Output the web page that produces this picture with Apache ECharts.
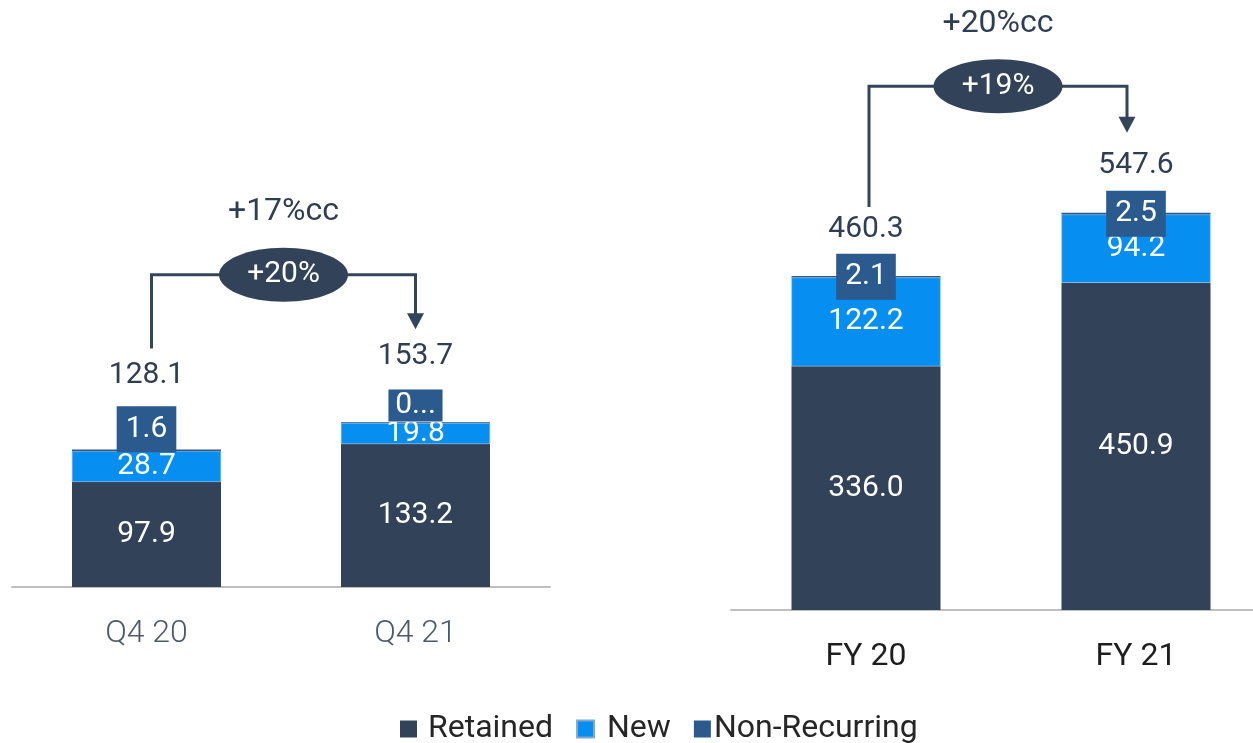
<!DOCTYPE html>
<html>
<head>
<meta charset="utf-8">
<script src="https://cdn.jsdelivr.net/npm/echarts@6/dist/echarts.min.js"></script>
<style>
  html, body { margin: 0; padding: 0; background: #ffffff; overflow: hidden; }
  /* the right-hand axis runs past the page edge, so the canvas is a little wider than the page */
  #chart { width: 1271px; height: 743px; }
</style>
</head>
<body>
<div id="chart"></div>
<script>
// Quarter panel
const categoriesQ = ['Q4 20', 'Q4 21'];
const retainedQ = [97.9, 133.2];
const newQ = [28.7, 19.8];
const nonRecurringQ = [1.6, 0.7];
const totalQ = [128.1, 153.7];
const growthQ = '+20%';
const growthQcc = '+17%cc';

// Full-year panel
const categoriesFY = ['FY 20', 'FY 21'];
const retainedFY = [336.0, 450.9];
const newFY = [122.2, 94.2];
const nonRecurringFY = [2.1, 2.5];
const totalFY = [460.3, 547.6];
const growthFY = '+19%';
const growthFYcc = '+20%cc';

// Colours and type
const C_RETAINED = '#324359';
const C_NEW = '#068ff0';
const C_NONREC = '#2a5a8e';
const C_INK = '#2f3e52';
const FONT = 'Roboto, "Noto Sans", sans-serif';
const FS = 30;      // values inside / above bars
const FS_BIG = 32;  // axis labels, legend, growth notes

// Layout tweaks (pixels) for labels and growth brackets, per bar: [Q4 20, Q4 21, FY 20, FY 21]
const nonRecLabelShift = [-21, -17, 0, 0];
const totalLabelShift = [-74, -66, -47, -47];
const stemGap = [27, 27, 22, 33];
const stemShift = [5, 0, 3, -9];
// per panel: bracket height above the higher total label
const bracketRise = [81.5, 79.5];

const fmt = v => v.toFixed(1);

const valueLabel = {
  show: true, position: 'inside', color: '#ffffff',
  fontFamily: FONT, fontSize: FS, formatter: p => fmt(p.value)
};

function nonRecData(values, base) {
  return values.map((v, i) => {
    const k = base + i;
    const label = { offset: [0, nonRecLabelShift[k]] };
    if (k === 1) {
      // narrow box: the value is cut short with an ellipsis
      label.width = 42.1;
      label.overflow = 'truncate';
      label.ellipsis = '...';
      label.padding = [6, 6, 0, 6];
      label.lineHeight = 26;
    }
    return { value: v, label };
  });
}

function barSeries(axis, stack, retained, newer, nonRec, base) {
  const common = { type: 'bar', stack, xAxisIndex: axis, yAxisIndex: axis, barWidth: 149 };
  return [
    Object.assign({}, common, {
      name: 'Retained', data: retained, itemStyle: { color: C_RETAINED }, label: valueLabel
    }),
    Object.assign({}, common, {
      name: 'New', data: newer,
      itemStyle: { color: C_NEW, borderColor: '#7fa9cf', borderWidth: 0.6 },
      label: valueLabel
    }),
    Object.assign({}, common, {
      name: 'Non-Recurring', data: nonRecData(nonRec, base),
      itemStyle: { color: C_NONREC },
      label: Object.assign({}, valueLabel, {
        backgroundColor: C_NONREC, padding: [9, 9], lineHeight: 28
      })
    })
  ];
}

function totalSeries(axis, totals, base) {
  return {
    type: 'scatter', xAxisIndex: axis, yAxisIndex: axis,
    symbolSize: 1, itemStyle: { color: 'rgba(255,255,255,0)' }, silent: true,
    data: totals.map((v, i) => ({ value: v, label: { offset: [0, totalLabelShift[base + i]] } })),
    label: {
      show: true, position: 'inside', color: C_INK, opacity: 1,
      textBorderWidth: 0, textBorderColor: 'transparent',
      fontFamily: FONT, fontSize: FS, formatter: p => fmt(p.value)
    }
  };
}

function catAxis(grid, cats, color, weight) {
  return {
    type: 'category', gridIndex: grid, data: cats,
    axisLine: { lineStyle: { color: '#bfbfbf', width: 2 } },
    axisTick: { show: false },
    axisLabel: { color, fontFamily: FONT, fontSize: FS_BIG, fontWeight: weight, margin: 31 }
  };
}

function valAxis(grid, max) {
  return { type: 'value', gridIndex: grid, min: 0, max, show: false, splitLine: { show: false } };
}

const chart = echarts.init(document.getElementById('chart'), null, { renderer: 'canvas' });

chart.setOption({
  animation: false,
  backgroundColor: '#ffffff',
  grid: [
    { left: 12, width: 538, top: 100, bottom: 156 },
    { left: 731, width: 540, top: 100, bottom: 133 }
  ],
  xAxis: [
    catAxis(0, categoriesQ, '#4d5a6a', 300),
    catAxis(1, categoriesFY, '#1e1e1e', 'normal')
  ],
  yAxis: [valAxis(0, 454), valAxis(1, 703)],
  legend: {
    data: [
      { name: 'Retained', textStyle: { padding: [0, 0, 0, 6] } },
      { name: 'New', textStyle: { padding: [0, 0, 0, 8] } },
      { name: 'Non-Recurring', textStyle: { padding: [0, 0, 0, -2] } }
    ],
    left: 400, top: 713, padding: 0, itemGap: 23,
    icon: 'rect', itemWidth: 17, itemHeight: 17,
    textStyle: { fontFamily: FONT, fontSize: FS_BIG, color: '#262626' }
  },
  series: [
    ...barSeries(0, 'q', retainedQ, newQ, nonRecurringQ, 0),
    ...barSeries(1, 'fy', retainedFY, newFY, nonRecurringFY, 2),
    totalSeries(0, totalQ, 0),
    totalSeries(1, totalFY, 2)
  ]
});

// Growth brackets: stems rise from above the total labels, join at a common level,
// an ellipse carries the reported growth, the constant-currency figure sits above it.
function bracket(axis, totals, base, growth, growthCc) {
  const finder = { xAxisIndex: axis, yAxisIndex: axis };
  const pts = totals.map((v, i) => chart.convertToPixel(finder, [i, v]));
  const labelY = pts.map((p, i) => p[1] + totalLabelShift[base + i]);
  const x1 = pts[0][0] + stemShift[base];
  const x2 = pts[1][0] + stemShift[base + 1];
  const y1 = labelY[0] - stemGap[base];
  const tip = labelY[1] - stemGap[base + 1];
  const level = Math.min(labelY[0], labelY[1]) - bracketRise[axis];
  const mid = (x1 + x2) / 2;
  const head = 16;
  const stroke = '#33455b';
  return [
    { type: 'polyline', silent: true,
      shape: { points: [[x1, y1], [x1, level], [x2, level], [x2, tip - head + 1]] },
      style: { stroke, lineWidth: 3, fill: null } },
    { type: 'polygon', silent: true,
      shape: { points: [[x2 - 8.5, tip - head], [x2 + 8.5, tip - head], [x2, tip]] },
      style: { fill: stroke } },
    { type: 'ellipse', silent: true,
      shape: { cx: mid, cy: level, rx: 64.5, ry: 27 },
      style: { fill: C_RETAINED } },
    { type: 'text', silent: true,
      style: { text: growth, x: mid, y: level, align: 'center', verticalAlign: 'middle',
               textAlign: 'center', textVerticalAlign: 'middle',
               fill: '#ffffff', fontSize: FS, fontFamily: FONT } },
    { type: 'text', silent: true,
      style: { text: growthCc, x: mid, y: level - 62.5, align: 'center', verticalAlign: 'middle',
               textAlign: 'center', textVerticalAlign: 'middle',
               fill: C_INK, fontSize: FS_BIG, fontFamily: FONT } }
  ];
}

chart.setOption({
  graphic: [
    ...bracket(0, totalQ, 0, growthQ, growthQcc),
    ...bracket(1, totalFY, 2, growthFY, growthFYcc)
  ]
});
</script>
</body>
</html>
